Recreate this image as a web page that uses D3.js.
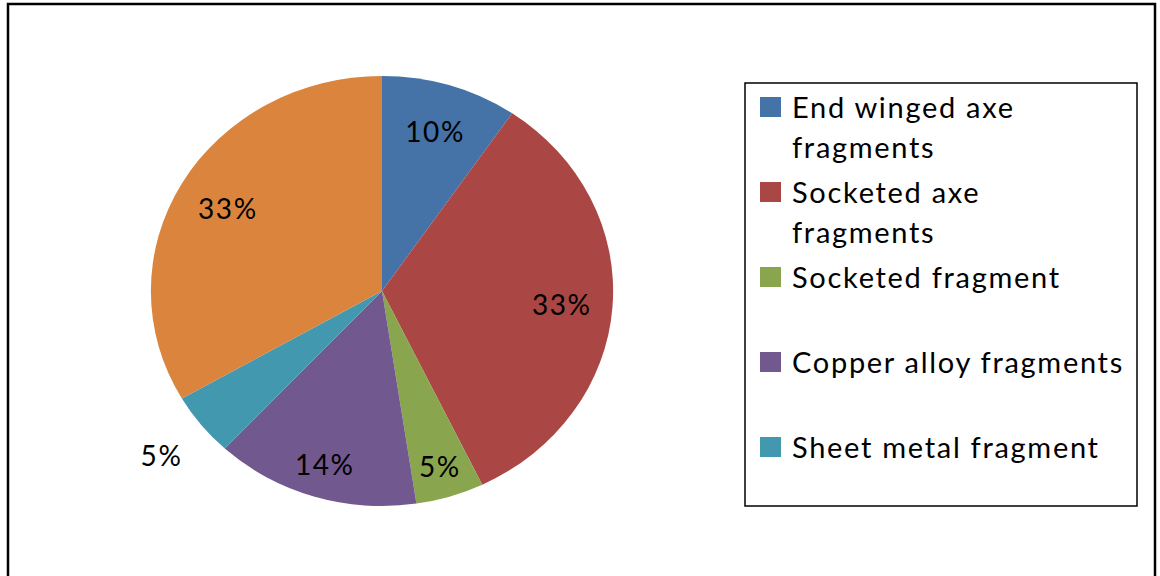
<!DOCTYPE html>
<html>
<head>
<meta charset="utf-8">
<script src="https://cdn.jsdelivr.net/npm/d3@7"></script>
<style>
html,body{margin:0;padding:0;background:#fff;}
svg{display:block;}
text{font-family:Lato, "Open Sans", sans-serif;fill:#000;}
</style>
</head>
<body>
<svg id="chart" width="1160" height="576"></svg>
<script>
// Data
const categories = ["End winged axe fragments","Socketed axe fragments","Socketed fragment","Copper alloy fragments","Sheet metal fragment","Other fragments"];
const counts = [2, 7, 1, 3, 1, 7];
const colors = ["#4572A7","#AA4643","#89A54E","#71588F","#4198AF","#DB843D"];
// legend text lines as wrapped in the legend box (first five entries shown)
const legendLines = [["End winged axe","fragments"],["Socketed axe","fragments"],["Socketed fragment"],["Copper alloy fragments"],["Sheet metal fragment"]];

const svg = d3.select("#chart");

// outer frame
svg.append("rect").attr("x",8).attr("y",4).attr("width",1147).attr("height",620)
  .attr("fill","none").attr("stroke","#000").attr("stroke-width",2.5);

const cx = 382, cy = 291, R = 215, sx = 1.075;
const total = d3.sum(counts);
const pie = d3.pie().sort(null).value(d=>d)(counts);
const arc = d3.arc().innerRadius(0).outerRadius(R);

const g = svg.append("g").attr("transform",`translate(${cx},${cy}) scale(${sx},1)`);
g.selectAll("path").data(pie).enter().append("path")
  .attr("d",arc).attr("fill",(d,i)=>colors[i]);

// labels
const labelR = [0.78,0.78,0.85,0.84,1.22,0.77];
const fmt = d3.format(".0%");
svg.append("g").selectAll("text").data(pie).enter().append("text")
  .attr("x",(d,i)=>{const a=(d.startAngle+d.endAngle)/2; return cx + Math.sin(a)*R*labelR[i]*sx;})
  .attr("y",(d,i)=>{const a=(d.startAngle+d.endAngle)/2; return cy - Math.cos(a)*R*labelR[i];})
  .attr("text-anchor","middle").attr("dominant-baseline","central")
  .style("font-size","28px").style("letter-spacing","1.6px")
  .text(d=>fmt(d.value/total));

// legend
svg.append("rect").attr("x",745).attr("y",83).attr("width",392).attr("height",423)
  .attr("fill","none").attr("stroke","#000").attr("stroke-width",1.5);

const leg = svg.append("g");
legendLines.forEach((lines,i)=>{
  const base = 118 + i*85;
  leg.append("rect").attr("x",760).attr("y",base-21).attr("width",21).attr("height",20).attr("fill",colors[i]);
  const t = leg.append("text").attr("x",792).attr("y",base)
    .style("font-size","29px").style("letter-spacing","1.7px");
  lines.forEach((ln,j)=>{
    t.append("tspan").attr("x",792).attr("y",base+j*40).text(ln);
  });
});
</script>
</body>
</html>
